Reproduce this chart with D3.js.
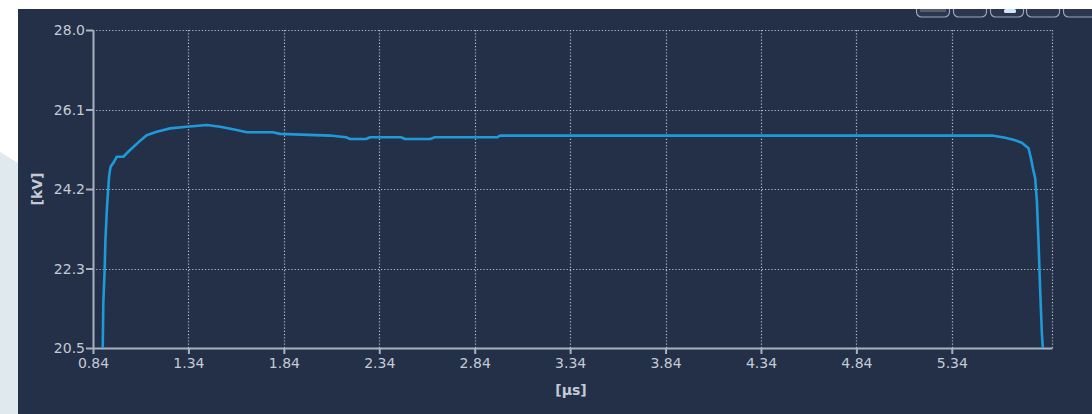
<!DOCTYPE html>
<html>
<head>
<meta charset="utf-8">
<script src="https://cdn.jsdelivr.net/npm/d3@7"></script>
<style>
	html, body { margin:0; padding:0; background:#ffffff; }
	svg { display:block; }
</style>
</head>
<body>
<svg id="chart" width="1092" height="414"></svg>
<script>
// data
var timeUs = [0.891,0.894,0.901,0.905,0.913,0.924,0.929,0.934,0.946,0.964,0.999,1.034,1.095,1.121,1.174,1.244,1.331,1.436,1.506,1.593,1.646,1.783,1.820,2.082,2.166,2.187,2.271,2.292,2.454,2.475,2.606,2.632,2.957,2.973,5.552,5.620,5.672,5.707,5.742,5.755,5.765,5.777,5.786,5.795,5.803,5.812,5.817];
var voltageKv = [20.50,21.56,22.33,23.04,23.80,24.53,24.70,24.79,24.86,25.01,25.01,25.17,25.42,25.52,25.60,25.68,25.72,25.76,25.72,25.64,25.59,25.59,25.55,25.51,25.47,25.43,25.43,25.47,25.47,25.43,25.43,25.47,25.47,25.51,25.51,25.46,25.40,25.34,25.21,24.97,24.74,24.50,23.95,22.92,21.86,20.84,20.50];
var xTickValues = [0.84,1.34,1.84,2.34,2.84,3.34,3.84,4.34,4.84,5.34];
var xTickLabels = ["0.84","1.34","1.84","2.34","2.84","3.34","3.84","4.34","4.84","5.34"];
var yTickValues = [20.5,22.375,24.25,26.125,28.0];
var yTickLabels = ["20.5","22.3","24.2","26.1","28.0"];
var xDomain = [0.84,5.865];
var yDomain = [20.5,28.0];

var svg = d3.select("#chart");
var W = 1092, H = 414;
var plot = {"left":93,"right":1052,"top":30,"bottom":348};

// 背景
svg.append("rect").attr("x",0).attr("y",0).attr("width",W).attr("height",H).attr("fill","#ffffff");
svg.append("path")
	.attr("d","M0,152 L18,163 L18,414 L0,414 Z")
	.attr("fill","#dfe9ee");
svg.append("rect").attr("x",18).attr("y",9).attr("width",W-18).attr("height",H-9).attr("fill","#243048");

// toolbar buttons (top right, cut off by the panel edge)
svg.append("clipPath").attr("id","panelClip")
	.append("rect").attr("x",18).attr("y",9).attr("width",W-18).attr("height",H-9);
var tb = svg.append("g").attr("clip-path","url(#panelClip)");
var btnX = [916,953,990,1026,1063];
btnX.forEach(function(bx,i){
	tb.append("rect")
		.attr("x",bx+0.5).attr("y",-12).attr("width",33).attr("height",29).attr("rx",5)
		.attr("fill","#2b374f").attr("stroke","#9aa6b6").attr("stroke-width",1.2);
});
tb.append("rect").attr("x",1004).attr("y",9).attr("width",12).attr("height",4).attr("rx",1.5).attr("fill","#cfe6fb");
tb.append("rect").attr("x",920).attr("y",9).attr("width",26).attr("height",3).attr("fill","#555e6c");

var x = d3.scaleLinear().domain(xDomain).range([plot.left,plot.right]);
var y = d3.scaleLinear().domain(yDomain).range([plot.bottom,plot.top]);

// grid
var grid = svg.append("g").attr("stroke","#b4bdca").attr("stroke-width",1.2).attr("stroke-dasharray","1.2,2");
yTickValues.slice(1).forEach(function(v){
	grid.append("line").attr("x1",plot.left).attr("x2",plot.right).attr("y1",Math.round(y(v))+0.5).attr("y2",Math.round(y(v))+0.5);
});
xTickValues.slice(1).concat([xDomain[1]]).forEach(function(v){
	grid.append("line").attr("y1",plot.top).attr("y2",plot.bottom).attr("x1",Math.round(x(v))+0.5).attr("x2",Math.round(x(v))+0.5);
});

// axes
var axisColor = "#a7b2c0", textColor = "#c3cbd6";
var xAxis = d3.axisBottom(x).tickValues(xTickValues).tickSize(6).tickSizeOuter(0)
	.tickFormat(function(d,i){ return xTickLabels[i]; });
var yAxis = d3.axisLeft(y).tickValues(yTickValues).tickSize(7).tickSizeOuter(0)
	.tickFormat(function(d,i){ return yTickLabels[i]; });

var gx = svg.append("g").attr("transform","translate(0,"+plot.bottom+")").call(xAxis);
var gy = svg.append("g").attr("transform","translate("+plot.left+",0)").call(yAxis);
[gx,gy].forEach(function(g){
	g.select(".domain").attr("stroke",axisColor).attr("stroke-width",2);
	g.selectAll(".tick line").attr("stroke",axisColor).attr("stroke-width",2);
	g.selectAll(".tick text").attr("fill",textColor).attr("font-family","DejaVu Sans").attr("font-size",14);
});
gx.selectAll(".tick text").attr("dy","0.95em").attr("y",7);
gy.selectAll(".tick text").attr("x",-8).attr("dy","0.35em");

// axis titles
svg.append("text").attr("x",571).attr("y",395).attr("text-anchor","middle")
	.attr("font-family","DejaVu Sans").attr("font-weight","bold").attr("font-size",14).attr("fill",textColor)
	.text("[μs]");
svg.append("text").attr("transform","translate(42,189) rotate(-90)").attr("text-anchor","middle")
	.attr("font-family","DejaVu Sans").attr("font-weight","bold").attr("font-size",14).attr("fill",textColor)
	.text("[kV]");

// 曲線
var pts = timeUs.map(function(t,i){ return [t,voltageKv[i]]; });
var line = d3.line().x(function(d){ return x(d[0]); }).y(function(d){ return y(d[1]); });
svg.append("path").datum(pts)
	.attr("d",line)
	.attr("fill","none")
	.attr("stroke","#1f9ad8")
	.attr("stroke-width",2.6)
	.attr("stroke-linejoin","round");
</script>
</body>
</html>
